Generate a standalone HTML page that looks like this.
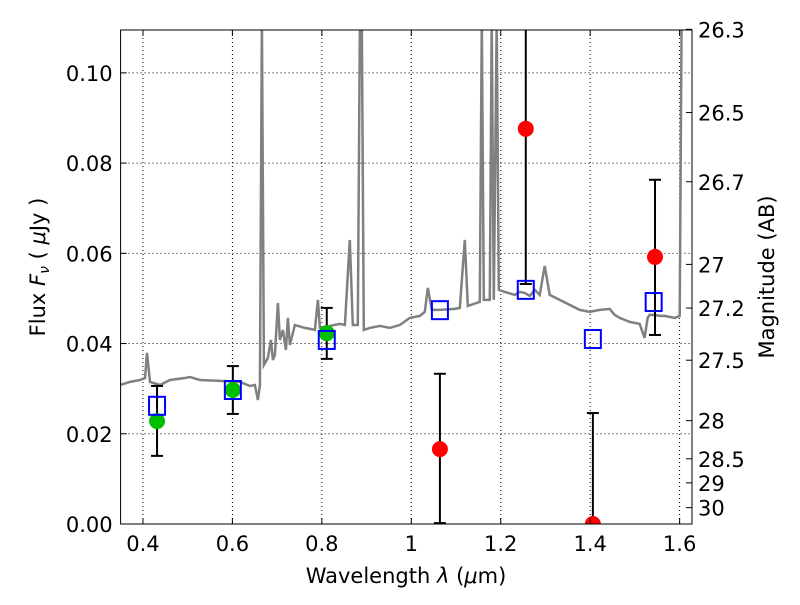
<!DOCTYPE html>
<html><head><meta charset="utf-8"><style>
body{margin:0;background:#fff}
svg text{font-family:"DejaVu Sans","Liberation Sans",sans-serif;fill:#000}
</style></head><body>
<svg id="chart" width="800" height="600" xmlns="http://www.w3.org/2000/svg">
<rect width="800" height="600" fill="#fff"/>
<g id="grid"></g>
<g id="spec"></g>
<g id="marks"></g>
<g id="axes"></g>
</svg>
<script>
const xTicks=[0.4,0.6,0.8,1.0,1.2,1.4,1.6];
const xTickLabels=["0.4","0.6","0.8","1","1.2","1.4","1.6"];
const yTicks=[0,0.02,0.04,0.06,0.08,0.10];
const yTickLabels=["0.00","0.02","0.04","0.06","0.08","0.10"];
const magTicks=[26.3,26.5,26.7,27,27.2,27.5,28,28.5,29,30];
const specPx=[[120,385],[130,382],[140,380],[145,378],[147,353],[150,382],[160,385],[170,380],[185,378],[190,377],[200,380],[220,381],[240,382],[250,386],[255,385],[258,400],[260,385],[262,20],[264,365],[268,358],[271,340],[273,360],[275,355],[278,303],[280,340],[283,330],[286,350],[288,318],[290,345],[295,325],[305,328],[315,330],[318,300],[320,328],[325,332],[330,326],[340,324],[345,325],[350,240],[353,325],[358,325],[360,20],[362,20],[364,330],[370,328],[380,326],[390,328],[400,325],[410,318],[420,316],[425,312],[428,288],[432,310],[440,310],[455,309],[460,308],[465,240],[468,306],[480,302],[482,20],[484,300],[490,300],[492,20],[494,300],[497,20],[499,290],[505,292],[515,295],[520,292],[525,293],[530,296],[535,290],[540,295],[545,266],[550,295],[560,300],[570,305],[580,310],[590,312],[600,310],[610,309],[615,315],[620,318],[630,322],[640,324],[645,338],[648,318],[650,315],[655,315],[660,316],[665,316],[670,317],[675,318],[680,316],[682,20],[686,20],[692,20]];
const specWave=specPx.map(p=>+(0.35+(p[0]-120.6)/447.5).toFixed(4));
const specFlux=specPx.map(p=>+((524-p[1])/4510).toFixed(5));
const greenWave=[0.4315,0.601,0.811];
const greenFlux=[0.0228,0.0297,0.0423];
const greenLo=[0.0151,0.0244,0.0366];
const greenHi=[0.0306,0.0350,0.0479];
const modelWave=[0.4315,0.601,0.811,1.064,1.256,1.406,1.542];
const modelFlux=[0.0262,0.0297,0.0408,0.0474,0.0519,0.0410,0.0492];
const redWave=[1.064,1.256,1.406,1.545];
const redFlux=[0.0166,0.0876,0.0,0.0592];
const redLo=[0.0002,0.0532,0.0,0.0419];
const redHi=[0.0333,0.1220,0.0246,0.0763];

const L=120.6,R=692,T=30,B=524,x0=0.35,x1=1.6277,y0=0,y1=0.1095;
const X=v=>L+(v-x0)/(x1-x0)*(R-L);
const Y=v=>B-(v-y0)/(y1-y0)*(B-T);
const NS="http://www.w3.org/2000/svg";
function mk(tag,parent,at){const e=document.createElementNS(NS,tag);for(const k in at)e.setAttribute(k,at[k]);parent.appendChild(e);return e;}
const grid=document.getElementById('grid'),spec=document.getElementById('spec'),marks=document.getElementById('marks'),axes=document.getElementById('axes');
const clip=mk('clipPath',document.getElementById('chart'),{id:'cp'});
mk('rect',clip,{x:L,y:T,width:R-L,height:B-T});
xTicks.forEach((t,i)=>{
 const g=mk('line',grid,{x1:X(t),x2:X(t),y1:T,y2:B,stroke:'#000','stroke-width':1,'stroke-dasharray':'1,3'});
 
 mk('line',axes,{x1:X(t),x2:X(t),y1:B,y2:B-6,stroke:'#000'});
 mk('line',axes,{x1:X(t),x2:X(t),y1:T,y2:T+6,stroke:'#000'});
 const tx=mk('text',axes,{x:X(t),y:B+27,'font-size':21,'text-anchor':'middle'});tx.textContent=xTickLabels[i];
 
});
yTicks.forEach((t,i)=>{
 const g=mk('line',grid,{x1:L,x2:R,y1:Y(t),y2:Y(t),stroke:'#000','stroke-width':1,'stroke-dasharray':'1,3'});
 
 mk('line',axes,{x1:L,x2:L+6,y1:Y(t),y2:Y(t),stroke:'#000'});
 const tx=mk('text',axes,{x:L-8,y:Y(t)+8,'font-size':21,'text-anchor':'end'});tx.textContent=yTickLabels[i];
 
});
magTicks.forEach(m=>{
 const f=Math.pow(10,(23.9-m)/2.5);const y=Y(f);
 mk('line',axes,{x1:R,x2:R-6,y1:y,y2:y,stroke:'#000'});
 const tx=mk('text',axes,{x:R+6,y:y+8,'font-size':21});tx.textContent=String(m);
 
});
const sp=mk('polyline',spec,{points:specWave.map((w,i)=>X(w).toFixed(1)+','+Y(specFlux[i]).toFixed(1)).join(' '),fill:'none',stroke:'#808080','stroke-width':2.5,'clip-path':'url(#cp)'});

function err(w,lo,hi){
 mk('line',marks,{x1:X(w),x2:X(w),y1:Y(lo),y2:Y(hi),stroke:'#000','stroke-width':2,'clip-path':'url(#cp)'});
 [lo,hi].forEach(v=>mk('line',marks,{x1:X(w)-6,x2:X(w)+6,y1:Y(v),y2:Y(v),stroke:'#000','stroke-width':2,'clip-path':'url(#cp)'}));
}
greenWave.forEach((w,i)=>err(w,greenLo[i],greenHi[i]));
redWave.forEach((w,i)=>err(w,redLo[i],redHi[i]));
greenWave.forEach((w,i)=>{const c=mk('circle',marks,{cx:X(w),cy:Y(greenFlux[i]),r:8,fill:'#00bf00'});
 });
redWave.forEach((w,i)=>{const c=mk('circle',marks,{cx:X(w),cy:Y(redFlux[i]),r:8,fill:'#ff0000','clip-path':'url(#cp)'});
 });
modelWave.forEach((w,i)=>{const s=mk('rect',marks,{x:X(w)-8,y:Y(modelFlux[i])-9,width:16,height:18,fill:'none',stroke:'#0000ff','stroke-width':2});
 });
mk('rect',axes,{x:L,y:T,width:R-L,height:B-T,fill:'none',stroke:'#000','stroke-width':1});
let t=mk('text',axes,{x:406,y:583,'font-size':21,'text-anchor':'middle'});t.innerHTML='Wavelength  <tspan font-style="italic">λ</tspan> (<tspan font-style="italic">μ</tspan>m)';

t=mk('text',axes,{x:0,y:0,'font-size':21,'text-anchor':'middle',transform:'translate(45,267) rotate(-90)'});t.innerHTML='Flux  <tspan font-style="italic">F</tspan><tspan font-size="14" dy="4" font-style="italic">ν</tspan><tspan dy="-4">  (  </tspan><tspan font-style="italic">μ</tspan>Jy )';

t=mk('text',axes,{x:0,y:0,'font-size':21,'text-anchor':'middle',transform:'translate(774,277) rotate(-90)'});t.textContent='Magnitude (AB)';

</script>
</body></html>
